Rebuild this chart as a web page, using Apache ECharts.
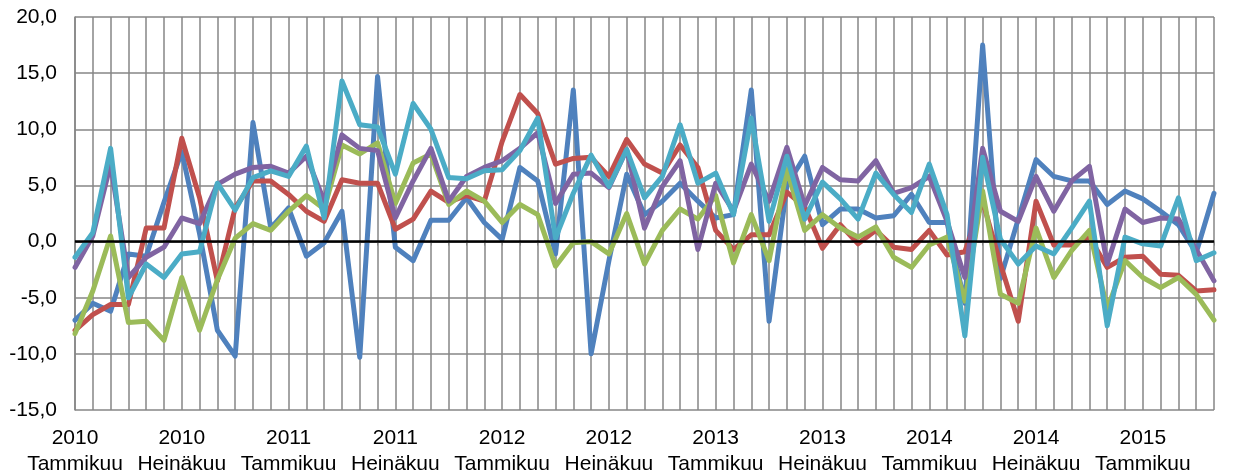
<!DOCTYPE html>
<html>
<head>
<meta charset="utf-8">
<script src="https://cdn.jsdelivr.net/npm/echarts@6/dist/echarts.min.js"></script>
<style>
	html, body { margin: 0; padding: 0; background: #fff; }
	#chart { width: 1243px; height: 473px; }
</style>
</head>
<body>
<div id="chart"></div>
<script>
// data, monthly 2010/01 .. 2015/05
var years = [2010, 2011, 2012, 2013, 2014, 2015];
var monthNames = ['Tammikuu', 'Helmikuu', 'Maaliskuu', 'Huhtikuu', 'Toukokuu', 'Kesäkuu',
	'Heinäkuu', 'Elokuu', 'Syyskuu', 'Lokakuu', 'Marraskuu', 'Joulukuu'];
var monthCount = 65;

var blue = [-7.0, -5.5, -6.2, -1.1, -1.3, 3.5, 8.0, 0.7, -7.9, -10.2,
	10.6, 1.2, 3.0, -1.3, -0.1, 2.7, -10.3, 14.7, -0.5, -1.7,
	1.9, 1.9, 3.9, 1.7, 0.2, 6.6, 5.4, -1.1, 13.5, -10.0,
	-1.7, 6.0, 2.4, 3.6, 5.2, 3.6, 2.1, 2.4, 13.5, -7.1,
	5.0, 7.6, 1.5, 2.9, 2.9, 2.1, 2.3, 4.2, 1.7, 1.7,
	-5.5, 17.5, -3.3, 2.0, 7.3, 5.8, 5.4, 5.4, 3.3, 4.5,
	3.8, 2.7, 1.5, -1.0, 4.3];
var red = [-7.9, -6.5, -5.6, -5.6, 1.2, 1.2, 9.2, 3.9, -3.5, 3.0,
	5.4, 5.4, 4.2, 2.7, 1.8, 5.5, 5.2, 5.2, 1.1, 2.0,
	4.5, 3.5, 4.1, 3.6, 8.9, 13.1, 11.4, 6.9, 7.4, 7.5,
	5.8, 9.1, 6.9, 6.1, 8.6, 6.6, 1.0, -0.7, 0.6, 0.6,
	4.4, 3.1, -0.6, 1.5, -0.2, 1.0, -0.5, -0.7, 1.0, -1.2,
	-0.9, 3.6, -2.0, -7.1, 3.6, -0.3, -0.3, 0.4, -2.3, -1.4,
	-1.3, -2.9, -3.0, -4.4, -4.3];
var green = [-8.2, -4.4, 0.5, -7.2, -7.1, -8.8, -3.2, -7.9, -3.4, 0.3,
	1.6, 1.0, 2.7, 4.1, 2.9, 8.6, 7.8, 8.8, 3.4, 7.0,
	7.8, 3.3, 4.5, 3.6, 1.7, 3.3, 2.4, -2.2, -0.1, 0.0,
	-1.1, 2.5, -2.0, 1.0, 2.9, 2.0, 4.1, -1.9, 2.4, -1.7,
	6.4, 1.0, 2.4, 1.2, 0.4, 1.3, -1.4, -2.3, -0.3, 0.4,
	-5.3, 4.5, -4.7, -5.5, 1.2, -3.2, -0.8, 1.0, -6.0, -1.7,
	-3.2, -4.1, -3.2, -4.7, -7.0];
var purple = [-2.3, 0.5, 6.9, -3.2, -1.4, -0.5, 2.1, 1.6, 5.1, 6.0,
	6.6, 6.7, 6.1, 7.6, 3.6, 9.5, 8.3, 8.1, 2.1, 5.4,
	8.3, 3.6, 5.8, 6.6, 7.2, 8.3, 9.7, 3.4, 6.0, 6.1,
	4.8, 8.2, 1.2, 4.9, 7.2, -0.7, 5.2, 2.7, 6.9, 3.6,
	8.4, 3.2, 6.6, 5.5, 5.4, 7.2, 4.3, 4.8, 5.8, 1.8,
	-3.2, 8.3, 2.7, 1.8, 5.8, 2.7, 5.4, 6.7, -2.0, 2.9,
	1.7, 2.1, 2.0, -0.7, -3.5];
var cyan = [-1.4, 0.8, 8.3, -5.0, -2.0, -3.2, -1.1, -0.9, 5.2, 2.8,
	5.7, 6.3, 5.8, 8.5, 2.1, 14.3, 10.4, 10.2, 6.0, 12.3,
	10.0, 5.7, 5.6, 6.3, 6.4, 8.1, 11.0, 0.3, 4.3, 7.7,
	4.9, 8.2, 3.9, 5.8, 10.4, 5.2, 6.1, 2.4, 11.0, 1.8,
	7.6, 2.0, 5.3, 3.8, 2.0, 6.1, 4.2, 2.6, 6.9, 2.4,
	-8.4, 7.5, 0.2, -2.0, -0.4, -1.1, 1.2, 3.6, -7.5, 0.4,
	-0.2, -0.4, 3.9, -1.7, -1.0];

var categories = [];
for (var i = 0; i < monthCount; i++) {
	categories.push(years[Math.floor(i / 12)] + '\n' + monthNames[i % 12]);
}

var myChart = echarts.init(document.getElementById('chart'));

function makeLine(name, color, data) {
	return {
		name: name,
		type: 'line',
		data: data,
		symbol: 'none',
		lineStyle: { color: color, width: 5, join: 'round', cap: 'round' },
		itemStyle: { color: color },
		emphasis: { disabled: true }
	};
}

var series = [
	makeLine('s1', '#4F81BD', blue),
	makeLine('s2', '#C0504D', red),
	makeLine('s3', '#9BBB59', green),
	makeLine('s4', '#8064A2', purple),
	makeLine('s5', '#4BACC6', cyan)
];
// musta nollaviiva
series[0].markLine = {
	silent: true,
	symbol: 'none',
	label: { show: false },
	lineStyle: { color: '#000', width: 2.5, type: 'solid' },
	data: [{ yAxis: 0 }]
};

var option = {
	animation: false,
	textStyle: { fontFamily: 'Liberation Sans, Arial, sans-serif' },
	grid: { left: 75, right: 29, top: 17, bottom: 63, outerBoundsMode: 'none' },
	xAxis: {
		type: 'category',
		data: categories,
		boundaryGap: false,
		axisLine: { lineStyle: { color: '#868686', width: 1.5 } },
		axisTick: { show: true, interval: 0, length: 4, lineStyle: { color: '#868686' } },
		axisLabel: {
			interval: 5,
			color: '#000',
			fontSize: 21,
			lineHeight: 26,
			margin: 15
		},
		splitLine: { show: true, interval: 0, lineStyle: { color: '#868686', width: 1.5 } }
	},
	yAxis: {
		type: 'value',
		min: -15,
		max: 20,
		interval: 5,
		axisLine: { show: true, lineStyle: { color: '#868686', width: 1.5 } },
		axisTick: { show: false },
		axisLabel: {
			color: '#000',
			fontSize: 21,
			margin: 18,
			formatter: function (v) { return v.toFixed(1).replace('.', ','); }
		},
		splitLine: { lineStyle: { color: '#868686', width: 1.5 } }
	},
	series: series
};

myChart.setOption(option);
</script>
</body>
</html>
